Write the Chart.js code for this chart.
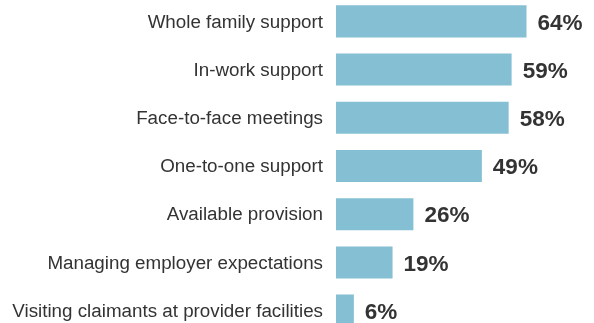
<!DOCTYPE html>
<html>
<head>
<meta charset="utf-8">
<script src="https://cdn.jsdelivr.net/npm/chart.js@4/dist/chart.umd.min.js"></script>
<style>
  html, body { margin: 0; padding: 0; overflow: hidden; background: #fff; }
  /* the tick labels add their own margin above and below the plot area */
  #wrap { position: absolute; left: 0; top: -27px; width: 594px; height: 386px; }
</style>
</head>
<body>
<div id="wrap"><canvas id="myChart"></canvas></div>
<script>
var categories = [
  'Whole family support',
  'In-work support',
  'Face-to-face meetings',
  'One-to-one support',
  'Available provision',
  'Managing employer expectations',
  'Visiting claimants at provider facilities'
];
var values = [64, 59, 58, 49, 26, 19, 6];

var barColor = '#85bfd3';
var textColor = '#333333';
var fontFamily = '"Liberation Sans", Arial, Helvetica, sans-serif';

// writes the percentage just past the end of each bar
var valueLabels = {
  id: 'valueLabels',
  afterDatasetsDraw: function (chart) {
    var ctx = chart.ctx;
    var meta = chart.getDatasetMeta(0);
    ctx.save();
    ctx.font = 'bold 22.5px ' + fontFamily;
    ctx.fillStyle = textColor;
    ctx.textAlign = 'left';
    ctx.textBaseline = 'middle';
    meta.data.forEach(function (bar, i) {
      ctx.fillText(values[i] + '%', bar.x + 11, bar.y + 2);
    });
    ctx.restore();
  }
};

new Chart('myChart', {
  type: 'bar',
  data: {
    labels: categories,
    datasets: [{
      data: values,
      backgroundColor: barColor,
      borderWidth: 0,
      barPercentage: 0.665,
      categoryPercentage: 1
    }]
  },
  options: {
    indexAxis: 'y',
    responsive: true,
    maintainAspectRatio: false,
    animation: false,
    layout: { padding: { left: 0, right: 2, top: 0, bottom: 0 } },
    plugins: { legend: { display: false }, tooltip: { enabled: false } },
    scales: {
      x: { display: false, min: 0, max: 86 },
      y: {
        grid: { display: false, drawTicks: false },
        border: { display: false },
        ticks: {
          color: textColor,
          padding: 13,
          labelOffset: 1,
          font: { family: fontFamily, size: 18.8, lineHeight: 1.2 }
        },
        afterFit: function (scale) { scale.width = 336; }
      }
    }
  },
  plugins: [valueLabels]
});
</script>
</body>
</html>
